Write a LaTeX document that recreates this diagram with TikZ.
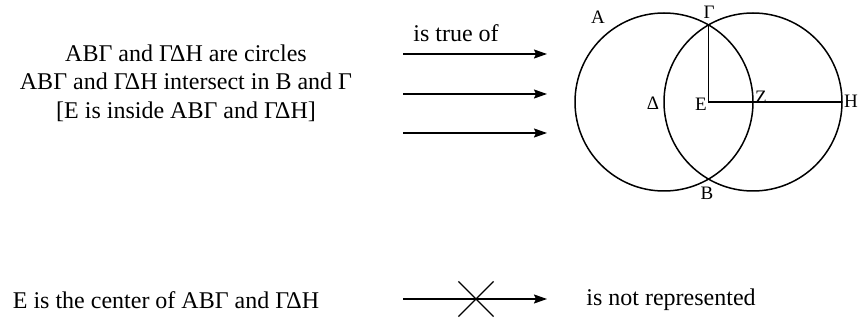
\documentclass[tikz,border=0pt]{standalone}
\usepackage{fontspec}
\setmainfont{Liberation Serif}
\usetikzlibrary{arrows.meta,shapes.misc}

\tikzset{
  claim/.style={font=\fontsize{24}{28.5}\selectfont,align=center},
  pointlabel/.style={font=\fontsize{19}{21}\selectfont,inner sep=1pt},
  rel/.style={line width=1.6pt,-{Stealth[length=13pt,width=9pt,inset=2pt]}}
}

\begin{document}
\begin{tikzpicture}[x=1pt,y=-1pt,line width=1.5pt]
\useasboundingbox (0,0) rectangle (859,320);
% the two circles and the segments
\draw (664,102) circle (89);
\draw (753,102) circle (89);
\draw (708.5,25) -- (708.5,102) -- (842,102);
\node[pointlabel] (A) at (598,17) {A};
\node[pointlabel] (G) at (709,12) {Γ};
\node[pointlabel] (B) at (707,193) {B};
\node[pointlabel] (D) at (653,103) {Δ};
\node[pointlabel] (E) at (701,104) {E};
\node[pointlabel] (Z) at (761,97) {Z};
\node[pointlabel] (H) at (851,101) {H};
% claims
\node[claim] (facts) at (186,83) {ABΓ and ΓΔH are circles\\ABΓ and ΓΔH intersect in B and Γ\\{}[E is inside ABΓ and ΓΔH]};
\node[claim] (truelab) at (456,33) {is true of};
\foreach \y/\n in {54/1,94/2,133/3} {
  \coordinate (s\n) at (403,\y);
  \coordinate (t\n) at (547,\y);
  \draw[rel] (s\n) -- (t\n);
}
\node[claim] (centre) at (166,300) {E is the center of ABΓ and ΓΔH};
\coordinate (s4) at (403,299);
\coordinate (t4) at (547,299);
\draw[rel] (s4) -- (t4);
\node[cross out,draw,line width=1.2pt,minimum size=34pt,inner sep=0pt] (cut) at (476,299) {};
\node[claim] (notrep) at (671,300) {is not represented};
\end{tikzpicture}
\end{document}
